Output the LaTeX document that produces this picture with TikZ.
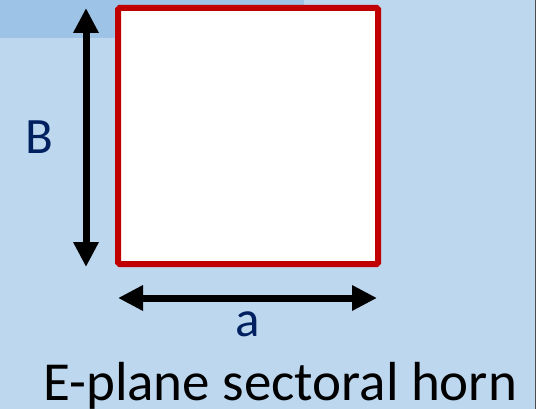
\documentclass[tikz,border=0pt]{standalone}
\usepackage{fontspec}
\setmainfont{Carlito}
\usetikzlibrary{arrows.meta}
\definecolor{bgblue}{RGB}{189,215,238}
\definecolor{bandblue}{RGB}{157,195,230}
\definecolor{apred}{RGB}{192,0,0}
\definecolor{navy}{RGB}{0,32,96}
\tikzset{
  dimarrow/.style={line width=7pt,{Triangle[length=25pt,width=24pt]}-{Triangle[length=25pt,width=24pt]}, black},
  lbl/.style={font=\fontsize{51}{51}\selectfont, inner sep=0pt},
  ttl/.style={font=\fontsize{55}{55}\selectfont, inner sep=0pt},
}
\begin{document}
\begin{tikzpicture}[x=1pt,y=-1pt]
\useasboundingbox (0,0) rectangle (540,409);
\fill[white] (0,0) rectangle (540,409);
\fill[bgblue] (0,0) rectangle (535,409);
\fill[bandblue] (0,0) rectangle (304,38);
\draw[line width=1pt, black!70] (535.5,0) -- (535.5,409);
\node[draw=apred, fill=white, line width=6pt, rounded corners=1.5pt, minimum width=260pt, minimum height=256pt, inner sep=0pt] (ap) at (248,136) {};
\coordinate (vt) at (86,8);
\coordinate (vb) at (86,267);
\coordinate (hl) at (118,298);
\coordinate (hr) at (377,298);
\draw[dimarrow] (vt) -- (vb);
\draw[dimarrow] (hl) -- (hr);
\node[lbl, text=navy, anchor=base] (B) at (39,153) {B};
\node[lbl, text=navy, anchor=base] (a) at (248,336) {a};
\node[ttl, text=black, anchor=base west] (title) at (43,400) {E-plane sectoral horn};
\end{tikzpicture}
\end{document}
